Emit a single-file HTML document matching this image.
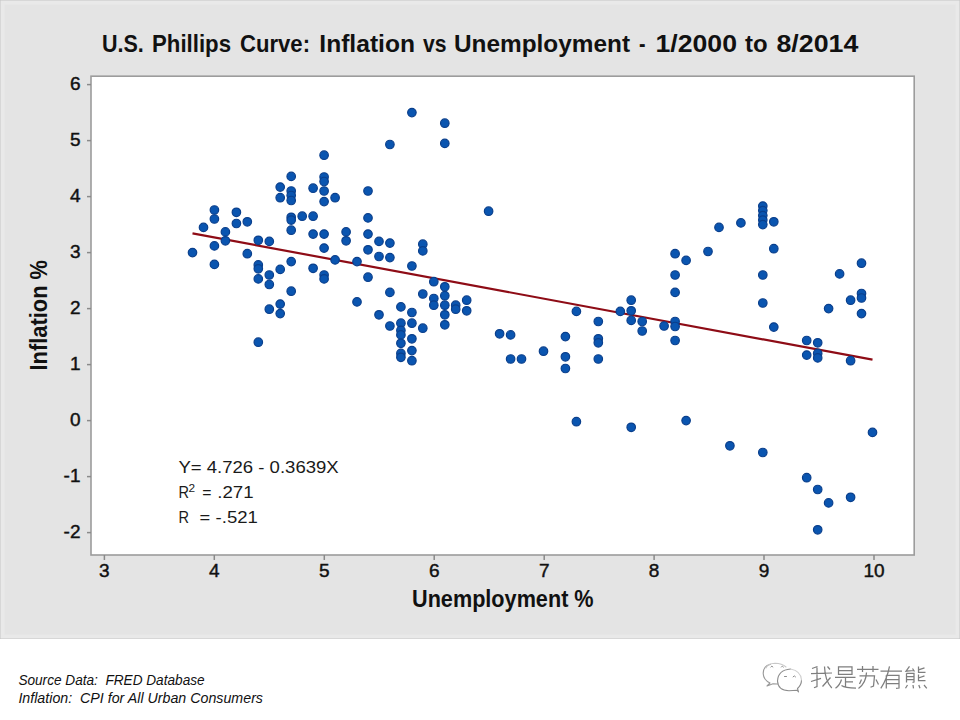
<!DOCTYPE html>
<html><head><meta charset="utf-8"><style>
html,body{margin:0;padding:0;background:#fff;}
body{width:960px;height:720px;overflow:hidden;position:relative;}
svg{position:absolute;left:0;top:0;}
text{font-family:"Liberation Sans",sans-serif;white-space:pre;}
</style></head><body>
<svg xml:space="preserve" width="960" height="720" viewBox="0 0 960 720">
<rect x="0" y="0" width="960" height="720" fill="#ffffff"/>
<rect x="0" y="0" width="960" height="639" fill="#e4e4e4"/>
<rect x="0.5" y="0.5" width="959" height="638" fill="none" stroke="#c4c4c4" stroke-width="1"/>
<rect x="2.5" y="2.5" width="955" height="634" fill="none" stroke="#e9e9e9" stroke-width="4"/>
<g font-size="24.3" font-weight="bold" fill="#111"><text x="102" y="51.8" textLength="41.8" lengthAdjust="spacingAndGlyphs">U.S.</text><text x="152" y="51.8" textLength="79.0" lengthAdjust="spacingAndGlyphs">Phillips</text><text x="240" y="51.8" textLength="70.0" lengthAdjust="spacingAndGlyphs">Curve:</text><text x="319.3" y="51.8" textLength="95.7" lengthAdjust="spacingAndGlyphs">Inflation</text><text x="423" y="51.8" textLength="23.5" lengthAdjust="spacingAndGlyphs">vs</text><text x="454" y="51.8" textLength="176.0" lengthAdjust="spacingAndGlyphs">Unemployment</text><text x="639" y="51.8" textLength="6.5" lengthAdjust="spacingAndGlyphs">-</text><text x="655.5" y="51.8" textLength="81.5" lengthAdjust="spacingAndGlyphs">1/2000</text><text x="745" y="51.8" textLength="22.6" lengthAdjust="spacingAndGlyphs">to</text><text x="776.5" y="51.8" textLength="81.8" lengthAdjust="spacingAndGlyphs">8/2014</text></g>
<rect x="91" y="76.2" width="823.2" height="478.8" fill="#fff" stroke="#9c9c9c" stroke-width="1.6"/>
<g stroke="#8a8a8a" stroke-width="1.5">
<line x1="87" y1="532.6" x2="91" y2="532.6"/>
<line x1="87" y1="476.6" x2="91" y2="476.6"/>
<line x1="87" y1="420.6" x2="91" y2="420.6"/>
<line x1="87" y1="364.6" x2="91" y2="364.6"/>
<line x1="87" y1="308.6" x2="91" y2="308.6"/>
<line x1="87" y1="252.6" x2="91" y2="252.6"/>
<line x1="87" y1="196.6" x2="91" y2="196.6"/>
<line x1="87" y1="140.6" x2="91" y2="140.6"/>
<line x1="87" y1="84.6" x2="91" y2="84.6"/>
<line x1="104.4" y1="555" x2="104.4" y2="560"/>
<line x1="214.3" y1="555" x2="214.3" y2="560"/>
<line x1="324.3" y1="555" x2="324.3" y2="560"/>
<line x1="434.2" y1="555" x2="434.2" y2="560"/>
<line x1="544.2" y1="555" x2="544.2" y2="560"/>
<line x1="654.1" y1="555" x2="654.1" y2="560"/>
<line x1="764.0" y1="555" x2="764.0" y2="560"/>
<line x1="874.0" y1="555" x2="874.0" y2="560"/>
</g>
<g font-size="19" fill="#111" stroke="#111" stroke-width="0.45">
<text x="80.5" y="537.8" text-anchor="end">-2</text>
<text x="80.5" y="481.8" text-anchor="end">-1</text>
<text x="80.5" y="425.8" text-anchor="end">0</text>
<text x="80.5" y="369.8" text-anchor="end">1</text>
<text x="80.5" y="313.8" text-anchor="end">2</text>
<text x="80.5" y="257.8" text-anchor="end">3</text>
<text x="80.5" y="201.8" text-anchor="end">4</text>
<text x="80.5" y="145.8" text-anchor="end">5</text>
<text x="80.5" y="89.8" text-anchor="end">6</text>
<text x="104.4" y="577.2" text-anchor="middle">3</text>
<text x="214.3" y="577.2" text-anchor="middle">4</text>
<text x="324.3" y="577.2" text-anchor="middle">5</text>
<text x="434.2" y="577.2" text-anchor="middle">6</text>
<text x="544.2" y="577.2" text-anchor="middle">7</text>
<text x="654.1" y="577.2" text-anchor="middle">8</text>
<text x="764.0" y="577.2" text-anchor="middle">9</text>
<text x="874.0" y="577.2" text-anchor="middle">10</text>
</g>
<text x="0" y="0" transform="translate(46.8,370.5) rotate(-90)" font-size="23.5" font-weight="bold" fill="#111" textLength="110.5" lengthAdjust="spacingAndGlyphs">Inflation %</text>
<text x="412" y="606.7" font-size="23.5" font-weight="bold" fill="#111" textLength="181.6" lengthAdjust="spacingAndGlyphs">Unemployment %</text>
<line x1="192.5" y1="233.4" x2="872.5" y2="359.7" stroke="#8e0c16" stroke-width="2.2"/>
<g fill="#0a55b0" stroke="#0a3f8c" stroke-width="1.2">
<circle cx="192.5" cy="252.6" r="4.25"/>
<circle cx="203.5" cy="227.4" r="4.25"/>
<circle cx="214.4" cy="210.0" r="4.25"/>
<circle cx="214.4" cy="219.0" r="4.25"/>
<circle cx="214.4" cy="245.9" r="4.25"/>
<circle cx="214.4" cy="264.4" r="4.25"/>
<circle cx="225.4" cy="231.9" r="4.25"/>
<circle cx="225.4" cy="240.8" r="4.25"/>
<circle cx="236.4" cy="212.3" r="4.25"/>
<circle cx="236.4" cy="223.5" r="4.25"/>
<circle cx="247.3" cy="221.8" r="4.25"/>
<circle cx="247.3" cy="253.7" r="4.25"/>
<circle cx="258.3" cy="240.3" r="4.25"/>
<circle cx="258.3" cy="264.9" r="4.25"/>
<circle cx="258.3" cy="268.8" r="4.25"/>
<circle cx="258.3" cy="278.9" r="4.25"/>
<circle cx="258.3" cy="342.2" r="4.25"/>
<circle cx="269.3" cy="241.4" r="4.25"/>
<circle cx="269.3" cy="275.0" r="4.25"/>
<circle cx="269.3" cy="284.5" r="4.25"/>
<circle cx="269.3" cy="309.2" r="4.25"/>
<circle cx="280.2" cy="187.1" r="4.25"/>
<circle cx="280.2" cy="197.7" r="4.25"/>
<circle cx="280.2" cy="269.4" r="4.25"/>
<circle cx="280.2" cy="304.1" r="4.25"/>
<circle cx="280.2" cy="313.6" r="4.25"/>
<circle cx="291.2" cy="176.4" r="4.25"/>
<circle cx="291.2" cy="191.0" r="4.25"/>
<circle cx="291.2" cy="195.5" r="4.25"/>
<circle cx="291.2" cy="200.5" r="4.25"/>
<circle cx="291.2" cy="217.3" r="4.25"/>
<circle cx="291.2" cy="220.1" r="4.25"/>
<circle cx="291.2" cy="230.2" r="4.25"/>
<circle cx="291.2" cy="261.6" r="4.25"/>
<circle cx="291.2" cy="291.2" r="4.25"/>
<circle cx="302.2" cy="216.2" r="4.25"/>
<circle cx="313.1" cy="188.2" r="4.25"/>
<circle cx="313.1" cy="216.2" r="4.25"/>
<circle cx="313.1" cy="234.1" r="4.25"/>
<circle cx="313.1" cy="268.3" r="4.25"/>
<circle cx="324.1" cy="155.2" r="4.25"/>
<circle cx="324.1" cy="177.0" r="4.25"/>
<circle cx="324.1" cy="181.5" r="4.25"/>
<circle cx="324.1" cy="191.0" r="4.25"/>
<circle cx="324.1" cy="201.6" r="4.25"/>
<circle cx="324.1" cy="234.1" r="4.25"/>
<circle cx="324.1" cy="248.1" r="4.25"/>
<circle cx="324.1" cy="275.0" r="4.25"/>
<circle cx="324.1" cy="278.9" r="4.25"/>
<circle cx="335.1" cy="197.7" r="4.25"/>
<circle cx="335.1" cy="259.9" r="4.25"/>
<circle cx="346.1" cy="231.9" r="4.25"/>
<circle cx="346.1" cy="240.8" r="4.25"/>
<circle cx="357.0" cy="261.6" r="4.25"/>
<circle cx="357.0" cy="301.9" r="4.25"/>
<circle cx="368.0" cy="191.0" r="4.25"/>
<circle cx="368.0" cy="217.9" r="4.25"/>
<circle cx="368.0" cy="234.1" r="4.25"/>
<circle cx="368.0" cy="249.8" r="4.25"/>
<circle cx="368.0" cy="277.2" r="4.25"/>
<circle cx="379.0" cy="241.4" r="4.25"/>
<circle cx="379.0" cy="256.5" r="4.25"/>
<circle cx="379.0" cy="314.8" r="4.25"/>
<circle cx="389.9" cy="144.5" r="4.25"/>
<circle cx="389.9" cy="243.1" r="4.25"/>
<circle cx="389.9" cy="257.6" r="4.25"/>
<circle cx="389.9" cy="292.4" r="4.25"/>
<circle cx="389.9" cy="326.0" r="4.25"/>
<circle cx="400.9" cy="306.9" r="4.25"/>
<circle cx="400.9" cy="323.2" r="4.25"/>
<circle cx="400.9" cy="330.4" r="4.25"/>
<circle cx="400.9" cy="334.9" r="4.25"/>
<circle cx="400.9" cy="343.3" r="4.25"/>
<circle cx="400.9" cy="353.4" r="4.25"/>
<circle cx="400.9" cy="357.3" r="4.25"/>
<circle cx="411.9" cy="112.6" r="4.25"/>
<circle cx="411.9" cy="266.0" r="4.25"/>
<circle cx="411.9" cy="312.5" r="4.25"/>
<circle cx="411.9" cy="323.2" r="4.25"/>
<circle cx="411.9" cy="338.8" r="4.25"/>
<circle cx="411.9" cy="350.6" r="4.25"/>
<circle cx="411.9" cy="360.7" r="4.25"/>
<circle cx="422.8" cy="244.2" r="4.25"/>
<circle cx="422.8" cy="250.9" r="4.25"/>
<circle cx="422.8" cy="294.0" r="4.25"/>
<circle cx="422.8" cy="328.2" r="4.25"/>
<circle cx="433.8" cy="281.7" r="4.25"/>
<circle cx="433.8" cy="298.5" r="4.25"/>
<circle cx="433.8" cy="305.2" r="4.25"/>
<circle cx="444.8" cy="123.2" r="4.25"/>
<circle cx="444.8" cy="143.4" r="4.25"/>
<circle cx="444.8" cy="286.8" r="4.25"/>
<circle cx="444.8" cy="295.7" r="4.25"/>
<circle cx="444.8" cy="305.2" r="4.25"/>
<circle cx="444.8" cy="314.8" r="4.25"/>
<circle cx="444.8" cy="324.8" r="4.25"/>
<circle cx="455.7" cy="305.2" r="4.25"/>
<circle cx="455.7" cy="309.2" r="4.25"/>
<circle cx="466.7" cy="300.2" r="4.25"/>
<circle cx="466.7" cy="310.8" r="4.25"/>
<circle cx="488.6" cy="211.2" r="4.25"/>
<circle cx="499.6" cy="333.8" r="4.25"/>
<circle cx="510.6" cy="334.9" r="4.25"/>
<circle cx="510.6" cy="359.0" r="4.25"/>
<circle cx="521.5" cy="359.0" r="4.25"/>
<circle cx="543.5" cy="351.2" r="4.25"/>
<circle cx="565.4" cy="336.6" r="4.25"/>
<circle cx="565.4" cy="356.8" r="4.25"/>
<circle cx="565.4" cy="368.5" r="4.25"/>
<circle cx="576.4" cy="311.4" r="4.25"/>
<circle cx="576.4" cy="421.7" r="4.25"/>
<circle cx="598.3" cy="321.5" r="4.25"/>
<circle cx="598.3" cy="338.8" r="4.25"/>
<circle cx="598.3" cy="342.8" r="4.25"/>
<circle cx="598.3" cy="359.0" r="4.25"/>
<circle cx="620.3" cy="311.4" r="4.25"/>
<circle cx="631.2" cy="300.2" r="4.25"/>
<circle cx="631.2" cy="310.8" r="4.25"/>
<circle cx="631.2" cy="320.4" r="4.25"/>
<circle cx="631.2" cy="427.3" r="4.25"/>
<circle cx="642.2" cy="321.5" r="4.25"/>
<circle cx="642.2" cy="331.0" r="4.25"/>
<circle cx="664.1" cy="326.0" r="4.25"/>
<circle cx="675.1" cy="253.7" r="4.25"/>
<circle cx="675.1" cy="275.0" r="4.25"/>
<circle cx="675.1" cy="292.4" r="4.25"/>
<circle cx="675.1" cy="321.5" r="4.25"/>
<circle cx="675.1" cy="326.5" r="4.25"/>
<circle cx="675.1" cy="340.5" r="4.25"/>
<circle cx="686.1" cy="260.4" r="4.25"/>
<circle cx="686.1" cy="420.6" r="4.25"/>
<circle cx="708.0" cy="251.5" r="4.25"/>
<circle cx="719.0" cy="227.4" r="4.25"/>
<circle cx="729.9" cy="445.8" r="4.25"/>
<circle cx="740.9" cy="222.9" r="4.25"/>
<circle cx="762.8" cy="206.1" r="4.25"/>
<circle cx="762.8" cy="210.6" r="4.25"/>
<circle cx="762.8" cy="215.6" r="4.25"/>
<circle cx="762.8" cy="220.1" r="4.25"/>
<circle cx="762.8" cy="224.6" r="4.25"/>
<circle cx="762.8" cy="275.0" r="4.25"/>
<circle cx="762.8" cy="303.0" r="4.25"/>
<circle cx="762.8" cy="452.5" r="4.25"/>
<circle cx="773.8" cy="221.8" r="4.25"/>
<circle cx="773.8" cy="248.7" r="4.25"/>
<circle cx="773.8" cy="327.1" r="4.25"/>
<circle cx="806.7" cy="340.5" r="4.25"/>
<circle cx="806.7" cy="355.1" r="4.25"/>
<circle cx="806.7" cy="477.7" r="4.25"/>
<circle cx="817.7" cy="342.8" r="4.25"/>
<circle cx="817.7" cy="353.4" r="4.25"/>
<circle cx="817.7" cy="357.9" r="4.25"/>
<circle cx="817.7" cy="489.5" r="4.25"/>
<circle cx="817.7" cy="529.8" r="4.25"/>
<circle cx="828.6" cy="308.6" r="4.25"/>
<circle cx="828.6" cy="502.9" r="4.25"/>
<circle cx="839.6" cy="273.9" r="4.25"/>
<circle cx="850.6" cy="300.2" r="4.25"/>
<circle cx="850.6" cy="360.7" r="4.25"/>
<circle cx="850.6" cy="497.3" r="4.25"/>
<circle cx="861.5" cy="263.2" r="4.25"/>
<circle cx="861.5" cy="293.5" r="4.25"/>
<circle cx="861.5" cy="298.0" r="4.25"/>
<circle cx="861.5" cy="313.6" r="4.25"/>
<circle cx="872.5" cy="432.4" r="4.25"/>
</g>
<g font-size="17.4" fill="#1a1a1a">
<text x="178.4" y="472.9" textLength="160.3" lengthAdjust="spacingAndGlyphs">Y= 4.726 - 0.3639X</text>
<text x="178.4" y="498.4" textLength="10.5" lengthAdjust="spacingAndGlyphs">R</text>
<text x="188.6" y="491.6" font-size="11.5" textLength="6.6" lengthAdjust="spacingAndGlyphs">2</text>
<text x="202.3" y="498.4" textLength="9.2" lengthAdjust="spacingAndGlyphs">=</text>
<text x="217.3" y="498.4" textLength="36.3" lengthAdjust="spacingAndGlyphs">.271</text>
<text x="178.4" y="523.1" textLength="10.5" lengthAdjust="spacingAndGlyphs">R</text>
<text x="199.6" y="523.1" textLength="10.7" lengthAdjust="spacingAndGlyphs">=</text>
<text x="215.6" y="523.1" textLength="42.3" lengthAdjust="spacingAndGlyphs">-.521</text>
</g>
<g font-size="14.5" font-style="italic" fill="#111">
<text x="18.4" y="684.5" textLength="186.2" lengthAdjust="spacingAndGlyphs">Source Data:  FRED Database</text>
<text x="18.4" y="702.7" textLength="244.6" lengthAdjust="spacingAndGlyphs">Inflation:  CPI for All Urban Consumers</text>
</g>
<g fill="none" stroke="#8d8d8d" stroke-width="1.1" stroke-linecap="round" stroke-linejoin="round">
<path d="M770.5 664.2 Q763 666 763.2 673.5 Q763.5 680 770 683 L767 686 L773 683.8 L777.5 684" stroke="#999"/>
<path d="M766 668 Q768 663.5 775 663.3 Q782 663.3 786 667"  stroke="#c8c8c8"/>
<path d="M790.5 669 Q778 670 777.5 681 Q778 690.5 789 690.8 L797 690.2 L798.5 691.8 L797.5 688.5 Q801.5 685 801.5 680"/>
<path d="M801.5 680 Q801 671 790.5 669" stroke="#cfcfcf"/>
<path d="M770.8 667 Q771.8 664.8 773 667 M781.3 667 Q782.3 664.8 783.5 667 M784.5 676.5 L786.5 676.5 M793 676.8 Q794.2 674.6 795.6 676.8" stroke-width="1"/>
</g>
<g fill="none" stroke="#7e7e7e" stroke-width="1.25" stroke-linecap="butt" stroke-linejoin="miter">
<path d="M817.5 666.5 L812 668.5 M811 673.6 L832 673 M817 667.5 L817 686.5 L814 687.8 M811 681.5 L821 678.3 M824.5 666.5 Q825 681 831.8 688 M830.5 677.5 L822.5 686.5 M827.5 666.5 L830 669.5"/>
<path d="M838.5 666.8 L852 666.8 L852 674.3 L838.5 674.3 Z M838.5 670.5 L852 670.5 M835 677.3 L855.5 677.3 M845.5 677.3 L845.5 686.5 M845.5 681.8 L853 681.8 M841.5 679.5 Q840 685 835.5 688.3 M841.5 685.5 Q845 688 856 688"/>
<path d="M857 669.3 L878.5 669.3 M862.5 666 L862.5 672 M873 666 L873 672 M859.5 675.8 L874.5 675.8 L873.5 686 L870.5 687.3 M866.5 672.5 Q866 683 858.5 688.5 M861.5 679.5 L859.5 684 M876 679.5 L878.5 684.5"/>
<path d="M880.5 671 L902 671 M889.5 666.3 Q887 679 880.8 688.3 M886.3 675.3 L886.3 688.5 M886.3 675.3 L899 675.3 L899 688 L896 688.3 M886.3 679.5 L899 679.5 M886.3 683.7 L899 683.7"/>
<path d="M909.5 666.3 L906 671.2 L914 670.5 M912.5 668.5 L914.5 671.5 M906.5 673.3 L906.5 682.5 M906.5 673.3 L914 673.3 L914 682 L912.5 682.3 M906.5 676.5 L914 676.5 M906.5 679.5 L914 679.5 M918.5 666.5 L918.5 672.3 L925.5 672.3 M924.5 667.8 L918.5 669.8 M918.5 674.5 L918.5 680.5 L925.5 680.5 M924.5 675.8 L918.5 678 M907.5 685 L905.5 688.3 M913 685 L913.5 688.3 M918.8 685 L920 688.3 M924 685 L926.8 688.3"/>
</g>
</svg>
</body></html>
